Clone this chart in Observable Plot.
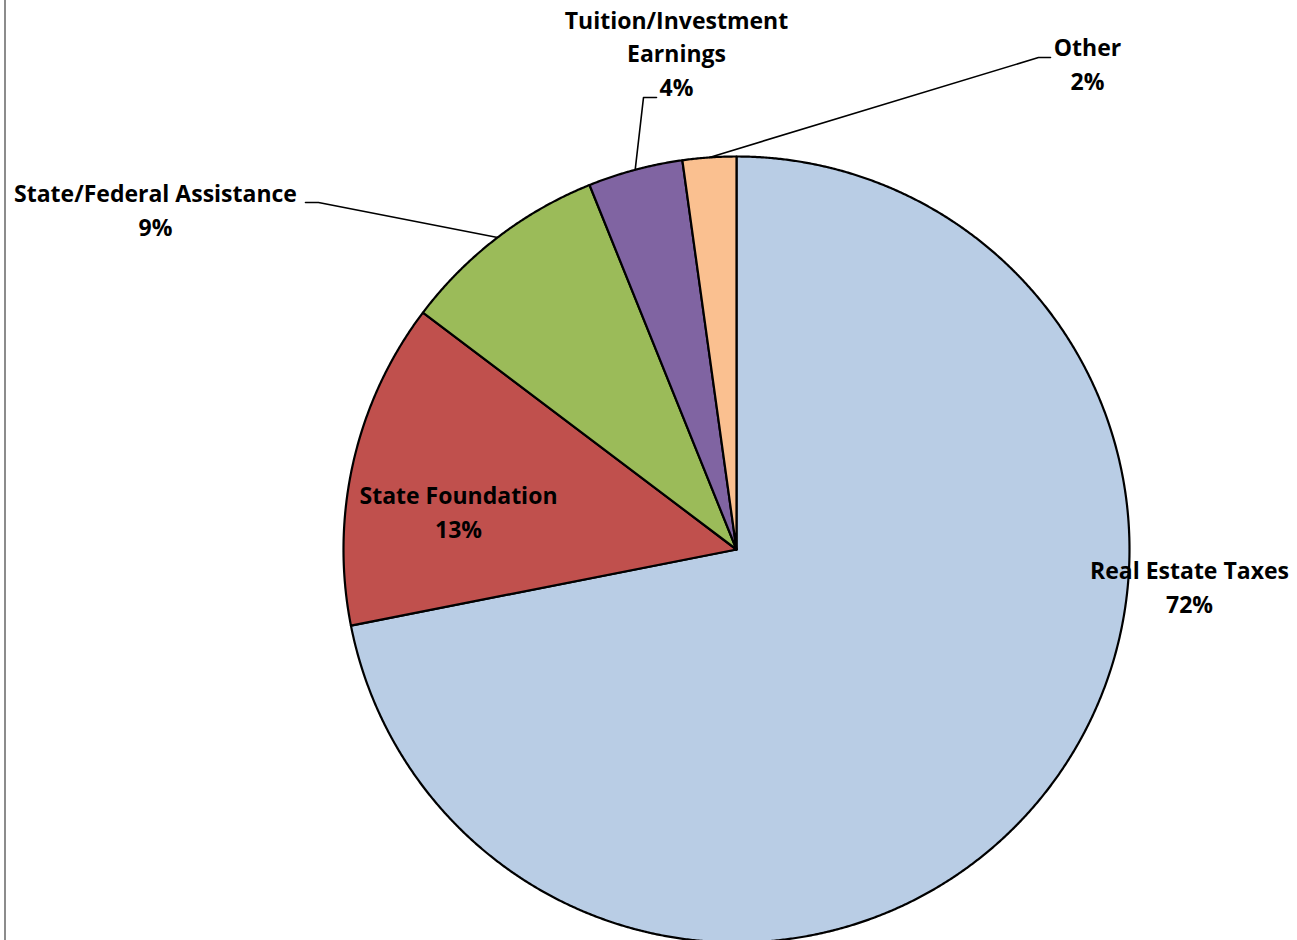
<!DOCTYPE html>
<html>
<head>
<meta charset="utf-8">
<script src="https://cdn.jsdelivr.net/npm/d3@7"></script>
<script src="https://cdn.jsdelivr.net/npm/@observablehq/plot@0.6"></script>
<style>
  html, body { margin: 0; padding: 0; background: #fff; }
  #wrap { position: relative; width: 1297px; height: 940px; overflow: hidden; }
  #edge { position: absolute; left: 4px; top: 0; width: 2px; height: 940px; background: #8c8c8c; }
  #chart { position: absolute; left: 0; top: 0; }
</style>
</head>
<body>
<div id="wrap"><div id="chart"></div><div id="edge"></div></div>
<script>
// ---- data ----
const categories = ["Real Estate Taxes", "State Foundation", "State/Federal Assistance", "Tuition/Investment Earnings", "Other"];
const shares = [71.9, 13.4, 8.6, 3.9, 2.2];           // percent of revenue
const pctLabels = ["72%", "13%", "9%", "4%", "2%"];
const nameLabels = ["Real Estate Taxes", "State Foundation", "State/Federal Assistance", "Tuition/Investment\nEarnings", "Other"];
const colors = ["#B9CDE5", "#C0504D", "#9BBB59", "#8064A2", "#FAC090"];

// ---- layout (pixels of the reference) ----
const W = 1297, H = 940, CX = 736, CY = 549, R = 393;
const toU = px => (px - CX) / R, toV = py => (CY - py) / R;
// centre of each label block
const labelPos = [ [1189, 585], [458, 510], [155, 208], [676, 51], [1087, 62] ];
// leader lines: label end point and elbow; the slice end point is the slice's mid angle on the rim
const leaders = {
  2: [[305, 202], [318, 202]],
  3: [[656, 97], [643, 97]],
  4: [[1050, 57], [1038, 57]]
};

// ---- geometry from data ----
const total = d3.sum(shares);
let acc = 0;
const slices = shares.map((s, i) => {
  const a0 = acc / total * 2 * Math.PI;
  acc += s;
  const a1 = acc / total * 2 * Math.PI;
  return { i, name: categories[i], a0, a1, color: colors[i] };
});
const polyPts = [];
for (const sl of slices) {
  const n = Math.max(8, Math.ceil((sl.a1 - sl.a0) / 0.004));
  polyPts.push({ k: sl.i, x: 0, y: 0, color: sl.color });
  for (let j = 0; j <= n; j++) {
    const a = sl.a0 + (sl.a1 - sl.a0) * j / n;
    polyPts.push({ k: sl.i, x: Math.sin(a), y: Math.cos(a), color: sl.color });
  }
  polyPts.push({ k: sl.i, x: 0, y: 0, color: sl.color });
}
const leaderPts = [];
for (const key of Object.keys(leaders)) {
  const i = +key, sl = slices[i];
  const [[x1, y1], [x2, y2]] = leaders[key];
  const a = (sl.a0 + sl.a1) / 2;
  leaderPts.push({ k: i, x: toU(x1), y: toV(y1) });
  leaderPts.push({ k: i, x: toU(x2), y: toV(y2) });
  leaderPts.push({ k: i, x: Math.sin(a), y: Math.cos(a) });
}
const labels = slices.map((sl, i) => ({
  x: toU(labelPos[i][0]), y: toV(labelPos[i][1]),
  text: nameLabels[i] + "\n" + pctLabels[i]
}));

const plot = Plot.plot({
  width: W, height: H,
  margin: 0,
  x: { domain: [-1, 1], range: [CX - R, CX + R], axis: null },
  y: { domain: [-1, 1], range: [CY + R, CY - R], axis: null },
  style: { fontFamily: "'Open Sans', Lato, sans-serif", background: "#fff", overflow: "visible" },
  marks: [
    Plot.line(polyPts, { x: "x", y: "y", z: "k", fill: "color", stroke: "#000", strokeWidth: 2.2, strokeLinejoin: "round", curve: "linear" }),
    Plot.line(leaderPts, { x: "x", y: "y", z: "k", stroke: "#000", strokeWidth: 1.6 }),
    Plot.text(labels, { x: "x", y: "y", text: "text", fontSize: 23, fontWeight: "bold", fill: "#000",
      textAnchor: "middle", lineAnchor: "middle", lineHeight: 1.46 })
  ]
});
document.getElementById("chart").appendChild(plot);
</script>
</body>
</html>
